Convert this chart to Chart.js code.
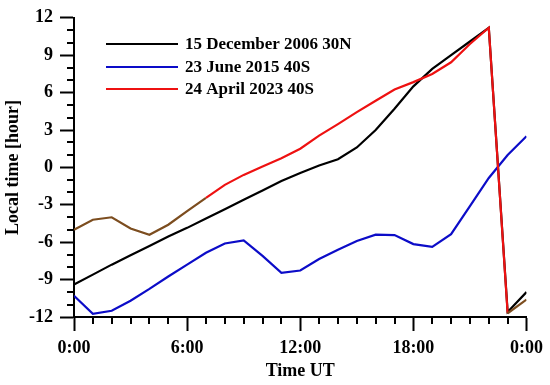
<!DOCTYPE html>
<html>
<head>
<meta charset="utf-8">
<script src="https://cdn.jsdelivr.net/npm/chart.js@4.4.1/dist/chart.umd.min.js"></script>
<style>
  body { margin: 0; background: #fff; }
  canvas { display: block; }
</style>
</head>
<body>
<canvas id="ltChart" width="550" height="385"></canvas>
<script>
// === Data (hours UT, local time in hours) ===
const hoursUT = [0, 1, 2, 3, 4, 5, 6, 7, 8, 9, 10, 11, 12, 13, 14, 15, 16, 17, 18, 19, 20, 21, 22, 23, 24];
const dec2006 = [-9.4, -8.6, -7.8, -7.05, -6.3, -5.55, -4.85, -4.1, -3.35, -2.6, -1.85, -1.1, -0.45, 0.15, 0.65, 1.6, 3.0, 4.7, 6.5, 7.9, 9.0, 10.1, 11.2, -11.6, -10.0];
const jun2015 = [-10.3, -11.75, -11.5, -10.7, -9.75, -8.75, -7.8, -6.85, -6.1, -5.85, -7.1, -8.45, -8.27, -7.35, -6.6, -5.9, -5.4, -5.43, -6.15, -6.38, -5.35, -3.1, -0.85, 1.0, 2.5];
const apr2023 = [-5.0, -4.2, -4.0, -4.9, -5.4, -4.6, -3.5, -2.45, -1.4, -0.6, 0.08, 0.74, 1.5, 2.55, 3.47, 4.43, 5.35, 6.25, 6.84, 7.5, 8.43, 9.9, 11.2, -11.7, -10.6];
const seriesLabels = ["15 December 2006 30N", "23 June 2015 40S", "24 April 2023 40S"];

const FONT = "'Liberation Serif', 'Times New Roman', serif";
const BROWN = "#7c4d1f";

function toPoints(ys) {
  return hoursUT.map((h, i) => ({ x: h, y: ys[i] }));
}

// === Minor ticks + legend drawn inside the plot ===
const extrasPlugin = {
  id: "extras",
  afterDraw(chart) {
    const ctx = chart.ctx;
    const xs = chart.scales.x;
    const ys = chart.scales.y;
    const area = chart.chartArea;
    ctx.save();
    ctx.strokeStyle = "#000";
    ctx.lineWidth = 2;
    ctx.beginPath();
    for (let h = 0; h <= 24; h++) {
      if (h % 6 === 0) continue;
      const px = Math.round(xs.getPixelForValue(h));
      ctx.moveTo(px, area.bottom);
      ctx.lineTo(px, area.bottom + 7);
    }
    for (let v = -12; v <= 12; v++) {
      if (v % 3 === 0) continue;
      const py = Math.round(ys.getPixelForValue(v));
      ctx.moveTo(area.left - 7, py);
      ctx.lineTo(area.left, py);
    }
    ctx.stroke();

    // legend
    const rows = [44, 67, 89];
    ctx.font = "bold 17px " + FONT;
    ctx.textBaseline = "middle";
    ctx.textAlign = "left";
    chart.data.datasets.forEach((ds, i) => {
      ctx.strokeStyle = ds.legendColor;
      ctx.beginPath();
      ctx.moveTo(106, rows[i]);
      ctx.lineTo(178, rows[i]);
      ctx.stroke();
      ctx.fillStyle = "#000";
      ctx.fillText(ds.label, 185, rows[i] + 1);
    });
    ctx.restore();
  },
};

// === Chart ===
function renderChart() {
  new Chart(document.getElementById("ltChart"), {
    type: "line",
    data: {
      datasets: [
        {
          label: seriesLabels[0],
          data: toPoints(dec2006),
          borderColor: "#000",
          legendColor: "#000",
          order: 2,
        },
        {
          label: seriesLabels[1],
          data: toPoints(jun2015),
          borderColor: "#0c0cc8",
          legendColor: "#0c0cc8",
          order: 1,
        },
        {
          label: seriesLabels[2],
          data: toPoints(apr2023),
          borderColor: "#ee1111",
          legendColor: "#ee1111",
          order: 0,
          segment: {
            borderColor: (c) =>
              c.p0DataIndex < 7 || c.p0DataIndex >= 23 ? BROWN : "#ee1111",
          },
        },
      ],
    },
    options: {
      responsive: false,
      animation: false,
      devicePixelRatio: 1,
      layout: { padding: { top: 15, right: 21, bottom: 0, left: 0 } },
      elements: {
        point: { radius: 0 },
        line: { borderWidth: 2.2, tension: 0 },
      },
      plugins: {
        legend: { display: false },
        tooltip: { enabled: false },
      },
      scales: {
        x: {
          type: "linear",
          min: 0,
          max: 24,
          afterFit: (s) => { s.height = 68; },
          ticks: {
            stepSize: 6,
            padding: 7,
            color: "#000",
            font: { family: FONT, size: 18, weight: "bold" },
            callback: (v) => (v % 24) + ":00",
          },
          grid: {
            drawOnChartArea: false,
            tickLength: 14,
            tickWidth: 2,
            tickColor: "#000",
          },
          border: { display: true, width: 2, color: "#000" },
          title: {
            display: true,
            text: "Time UT",
            color: "#000",
            font: { family: FONT, size: 18, weight: "bold" },
            padding: { top: 0, bottom: 3 },
          },
        },
        y: {
          min: -12,
          max: 12,
          afterFit: (s) => { s.width = 74; },
          ticks: {
            stepSize: 3,
            padding: 7,
            color: "#000",
            font: { family: FONT, size: 18, weight: "bold" },
          },
          grid: {
            drawOnChartArea: false,
            tickLength: 14,
            tickWidth: 2,
            tickColor: "#000",
          },
          border: { display: true, width: 2, color: "#000" },
          title: {
            display: true,
            text: "Local time [hour]",
            color: "#000",
            font: { family: FONT, size: 18, weight: "bold" },
            padding: { top: 3, bottom: 0 },
          },
        },
      },
    },
    plugins: [extrasPlugin],
  });
}

document.addEventListener("DOMContentLoaded", renderChart);
</script>
</body>
</html>
